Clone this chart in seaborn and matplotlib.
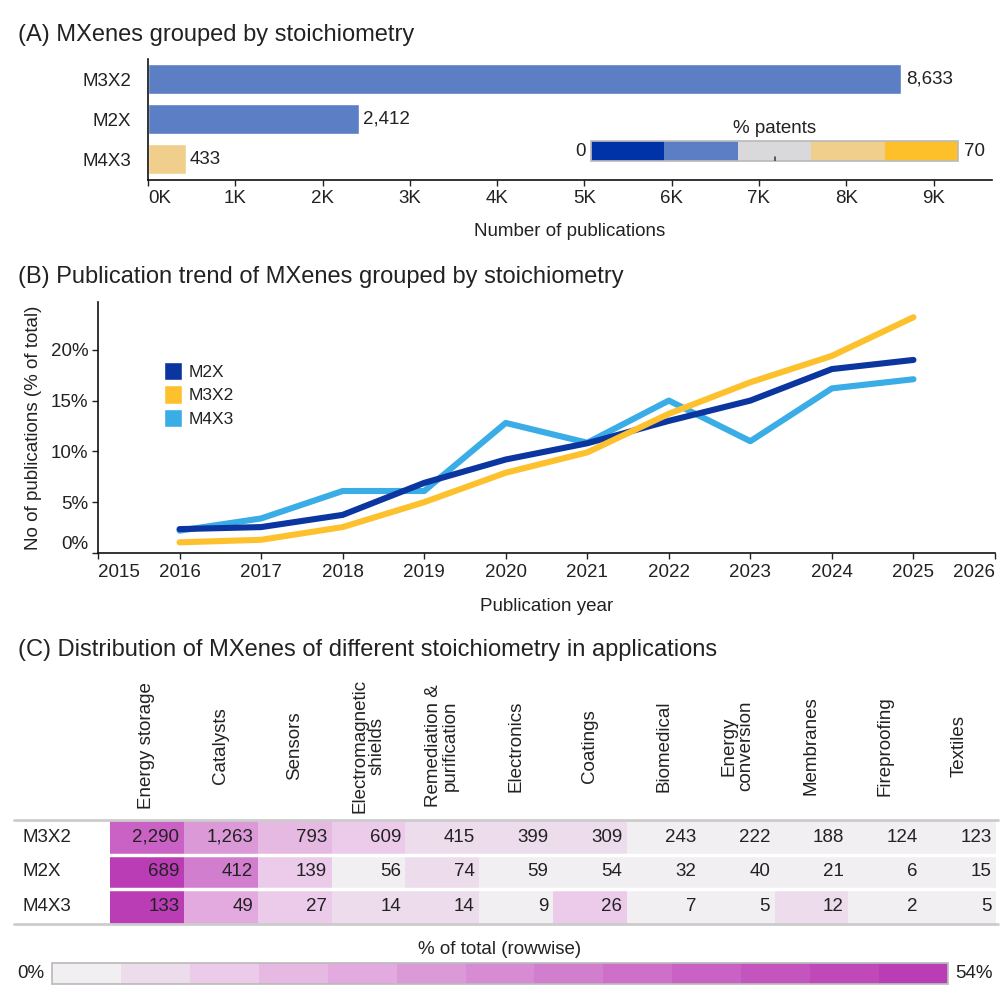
import matplotlib
matplotlib.use("Agg")
import numpy as np
import pandas as pd
import matplotlib.pyplot as plt
import matplotlib.transforms as mtransforms
from matplotlib.colors import ListedColormap, BoundaryNorm
from matplotlib.cm import ScalarMappable
from matplotlib.patches import Patch
from matplotlib.ticker import FuncFormatter
import seaborn as sns

# (A) publications per stoichiometry, coloured by share of patents
stoich = ["M3X2", "M2X", "M4X3"]
n_publications = [8633, 2412, 433]
pct_patents = [22, 24, 47]

# (B) publication trend, % of total per year
years = [2016, 2017, 2018, 2019, 2020, 2021, 2022, 2023, 2024, 2025]
trend_m2x = [2.35, 2.55, 3.75, 6.9, 9.2, 10.8, 13.0, 15.0, 18.1, 19.0]
trend_m3x2 = [1.05, 1.3, 2.55, 5.0, 7.9, 9.9, 13.7, 16.8, 19.4, 23.2]
trend_m4x3 = [2.2, 3.4, 6.1, 6.1, 12.8, 10.85, 15.0, 11.0, 16.2, 17.1]

# (C) applications
applications = ["Energy storage", "Catalysts", "Sensors", "Electromagnetic\nshields",
                "Remediation &\npurification", "Electronics", "Coatings", "Biomedical",
                "Energy\nconversion", "Membranes", "Fireproofing", "Textiles"]
rows_c = ["M3X2", "M2X", "M4X3"]
counts_m3x2 = [2290, 1263, 793, 609, 415, 399, 309, 243, 222, 188, 124, 123]
counts_m2x = [689, 412, 139, 56, 74, 59, 54, 32, 40, 21, 6, 15]
counts_m4x3 = [133, 49, 27, 14, 14, 9, 26, 7, 5, 12, 2, 5]

patent_colors = ["#0033a8", "#5b7ec5", "#d9d8da", "#f0cf8c", "#fdc02a"]
patent_mid = 35
trend_colors = {"M2X": "#0b36a0", "M3X2": "#fec12e", "M4X3": "#3aade6"}
heat_colors = ["#f2eff2", "#ecdcec", "#eccbea", "#e6b9e3", "#e2aadf", "#dc99d8", "#d78bd3",
               "#d27ece", "#ce6fc9", "#c962c4", "#c455be", "#c049ba", "#bb3db5"]
# bin edges of the rowwise colour scale (13 steps, shown evenly on the bar)
heat_edges = [0, 3.9, 7.3, 10.7, 14.1, 17.5, 20.9, 24.3, 27.7, 31.1, 34.5, 37.9, 41.3, 54]

TXT = "#222222"
FS = 13.5
W = H = 1008

sns.set_theme(style="white")
plt.rcParams["font.family"] = ["Liberation Sans", "DejaVu Sans"]
plt.rcParams["text.color"] = TXT
plt.rcParams["axes.labelcolor"] = TXT
plt.rcParams["xtick.color"] = TXT
plt.rcParams["ytick.color"] = TXT


def px_axes(fig, x0, y0, x1, y1):
    # axes from pixel box (top-left origin)
    return fig.add_axes([x0 / W, 1 - y1 / H, (x1 - x0) / W, (y1 - y0) / H])


fig = plt.figure(figsize=(W / 100, H / 100), dpi=100)

# ---------------- (A) ----------------
fig.text(18 / W, 1 - 35 / H, "(A) MXenes grouped by stoichiometry", fontsize=17, va="center")
axA = px_axes(fig, 148, 59, 992, 180)
pat_cmap = ListedColormap(patent_colors)
pat_norm = BoundaryNorm(np.linspace(0, 70, 6), pat_cmap.N)
dfA = pd.DataFrame({"stoich": stoich, "pubs": n_publications, "patents": pct_patents})
bar_colors = [pat_cmap(pat_norm(v)) for v in pct_patents]
sns.barplot(data=dfA, x="pubs", y="stoich", hue="stoich", palette=bar_colors, legend=False,
            width=0.75, saturation=1, ax=axA)
for c in axA.containers:
    axA.bar_label(c, fmt="{:,.0f}", padding=3, fontsize=FS, color=TXT)
axA.set_xlim(0, 9670)
axA.set_ylim(2.525, -0.5)
axA.set_xticks(range(0, 10000, 1000))
axA.set_xticklabels([f"{k}K" for k in range(10)], fontsize=FS)
axA.get_xticklabels()[0].set_ha("left")
axA.tick_params(axis="x", bottom=True, length=4, width=1, pad=3)
axA.tick_params(axis="y", left=False, labelsize=FS, pad=6)
axA.set_xlabel("Number of publications", fontsize=FS, labelpad=12)
axA.set_ylabel("")
for s in ["top", "right"]:
    axA.spines[s].set_visible(False)
for s in ["left", "bottom"]:
    axA.spines[s].set_color("#111111")
    axA.spines[s].set_linewidth(1.2)

caxA = px_axes(fig, 591, 141, 958, 161)
cbA = fig.colorbar(ScalarMappable(norm=pat_norm, cmap=pat_cmap), cax=caxA, orientation="horizontal")
cbA.outline.set_edgecolor("#bbbbbb")
cbA.set_ticks([])
caxA.minorticks_off()
caxA.axvline(patent_mid, ymin=0, ymax=0.22, color="#444444", lw=1.2, zorder=5)
caxA.text(-0.015, 0.5, "0", transform=caxA.transAxes, ha="right", va="center", fontsize=FS)
caxA.text(1.015, 0.5, "70", transform=caxA.transAxes, ha="left", va="center", fontsize=FS)
caxA.text(0.5, 1.2, "% patents", transform=caxA.transAxes, ha="center", va="bottom", fontsize=FS)

# ---------------- (B) ----------------
fig.text(18 / W, 1 - 277 / H, "(B) Publication trend of MXenes grouped by stoichiometry",
         fontsize=17, va="center")
axB = px_axes(fig, 98, 302, 995, 553)
dfB = pd.concat([
    pd.DataFrame({"year": years, "pct": trend_m2x, "stoich": "M2X"}),
    pd.DataFrame({"year": years, "pct": trend_m3x2, "stoich": "M3X2"}),
    pd.DataFrame({"year": years, "pct": trend_m4x3, "stoich": "M4X3"}),
])
sns.lineplot(data=dfB, x="year", y="pct", hue="stoich", hue_order=["M4X3", "M2X", "M3X2"],
             palette=trend_colors, linewidth=4.4, legend=False, ax=axB)
axB.set_xlim(2015, 2026)
axB.set_ylim(0, 24.7)
axB.set_xticks(range(2015, 2027))
axB.set_xticklabels([str(y) for y in range(2015, 2027)], fontsize=FS)
axB.get_xticklabels()[0].set_ha("left")
axB.get_xticklabels()[-1].set_ha("right")
axB.set_yticks([0, 5, 10, 15, 20])
axB.yaxis.set_major_formatter(FuncFormatter(lambda v, p: f"{v:.0f}%"))
axB.tick_params(axis="both", labelsize=FS, length=4, width=1)
axB.tick_params(axis="x", bottom=True, pad=4)
axB.tick_params(axis="y", left=True, pad=3)
axB.get_yticklabels()[0].set_va("bottom")
axB.set_xlabel("Publication year", fontsize=FS, labelpad=12)
axB.set_ylabel("No of publications (% of total)", fontsize=FS, labelpad=6)
for s in ["top", "right"]:
    axB.spines[s].set_visible(False)
for s in ["left", "bottom"]:
    axB.spines[s].set_color("#111111")
    axB.spines[s].set_linewidth(1.2)
handles = [Patch(facecolor=trend_colors[k], label=k) for k in ["M2X", "M3X2", "M4X3"]]
axB.legend(handles=handles, loc="upper left", bbox_to_anchor=(0.066, 0.79), borderaxespad=0,
           frameon=False, fontsize=12.5, handlelength=1.05, handleheight=1.25,
           handletextpad=0.35, labelspacing=0.3)

# ---------------- (C) ----------------
fig.text(18 / W, 1 - 650 / H, "(C) Distribution of MXenes of different stoichiometry in applications",
         fontsize=17, va="center")
count_df = pd.DataFrame([counts_m3x2, counts_m2x, counts_m4x3], index=rows_c, columns=applications)
pct_df = count_df.div(count_df.sum(axis=1), axis=0) * 100
heat_cmap = ListedColormap(heat_colors)
heat_norm = BoundaryNorm(heat_edges, heat_cmap.N)

axC = px_axes(fig, 110, 820, 996, 924)
sns.heatmap(pct_df, annot=count_df.values, fmt=",", cmap=heat_cmap, norm=heat_norm, cbar=False,
            xticklabels=False, yticklabels=False, annot_kws={"fontsize": FS, "color": TXT}, ax=axC)
for t in axC.texts:
    x, y = t.get_position()
    t.set_position((x + 0.44, y))
    t.set_ha("right")
axC.set_xlabel("")
axC.set_ylabel("")
for yy in [1, 2]:
    axC.axhline(yy, color="white", lw=2.5)

tr_rows = mtransforms.blended_transform_factory(fig.transFigure, axC.transData)
for i, lab in enumerate(rows_c):
    axC.text(22 / W, i + 0.5, lab, transform=tr_rows, ha="left", va="center", fontsize=FS)
tr_edge = mtransforms.blended_transform_factory(fig.transFigure, axC.transAxes)
for yy in [0, 1]:
    axC.plot([14 / W, 998 / W], [yy, yy], transform=tr_edge, color="#cccccc", lw=2, clip_on=False)
tr_head = mtransforms.blended_transform_factory(axC.transData, fig.transFigure)
for j, lab in enumerate(applications):
    axC.text(j + 0.5, 1 - 746 / H, lab, transform=tr_head, rotation=90, ha="center", va="center",
             multialignment="center", linespacing=1.0, fontsize=FS)

caxC = px_axes(fig, 52, 963, 948, 984)
cbC = fig.colorbar(ScalarMappable(norm=heat_norm, cmap=heat_cmap), cax=caxC,
                   orientation="horizontal", spacing="uniform")
cbC.outline.set_edgecolor("#bbbbbb")
cbC.set_ticks([])
caxC.minorticks_off()
caxC.text(-0.008, 0.5, "0%", transform=caxC.transAxes, ha="right", va="center", fontsize=FS)
caxC.text(1.008, 0.5, "54%", transform=caxC.transAxes, ha="left", va="center", fontsize=FS)
caxC.text(0.5, 1.25, "% of total (rowwise)", transform=caxC.transAxes, ha="center", va="bottom",
          fontsize=FS)

fig.savefig("out.png", dpi=100)
